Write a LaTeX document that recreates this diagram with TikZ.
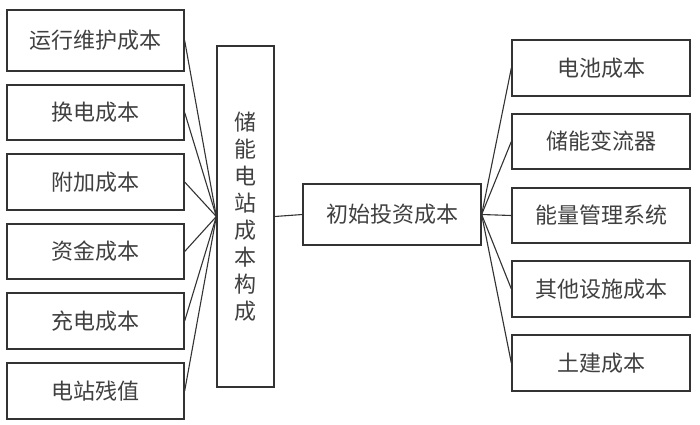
\documentclass[tikz,border=0pt]{standalone}
\usepackage{fontspec}
\setmainfont{Noto Sans CJK SC}
\begin{document}
\begin{tikzpicture}[x=1pt,y=-1pt,
  box/.style={draw=black!80,line width=1.3pt,fill=white,inner sep=0pt,text=black!75,font=\fontsize{22}{27}\selectfont},
  wide/.style={box,minimum width=177pt},
  conn/.style={draw=black!80,line width=1.1pt}]
\useasboundingbox[fill=white] (0,0) rectangle (700,424);
\node[wide,minimum height=61pt] (l1) at (95.5,40.5) {运行维护成本};
\node[wide,minimum height=55pt] (l2) at (95.5,112.5) {换电成本};
\node[wide,minimum height=56pt] (l3) at (95.5,182) {附加成本};
\node[wide,minimum height=55pt] (l4) at (95.5,251.5) {资金成本};
\node[wide,minimum height=56pt] (l5) at (95.5,321) {充电成本};
\node[wide,minimum height=56pt] (l6) at (95.5,391) {电站残值};
\node[box,minimum width=57pt,minimum height=341pt,align=center] (c) at (245.5,216.5) {储\\能\\电\\站\\成\\本\\构\\成};
\node[box,minimum width=178pt,minimum height=61pt] (m) at (392,214.5) {初始投资成本};
\node[box,minimum width=178pt,minimum height=56pt] (r1) at (601,68) {电池成本};
\node[box,minimum width=178pt,minimum height=55pt] (r2) at (601,141.5) {储能变流器};
\node[box,minimum width=178pt,minimum height=55pt] (r3) at (601,215.5) {能量管理系统};
\node[box,minimum width=178pt,minimum height=56pt] (r4) at (601,289) {其他设施成本};
\node[box,minimum width=178pt,minimum height=56pt] (r5) at (601,363) {土建成本};
\foreach \i in {1,...,6} \draw[conn] (l\i.east) -- (c.west);
\draw[conn] (c.east) -- (m.west);
\foreach \i in {1,...,5} \draw[conn] (m.east) -- (r\i.west);
\end{tikzpicture}
\end{document}
